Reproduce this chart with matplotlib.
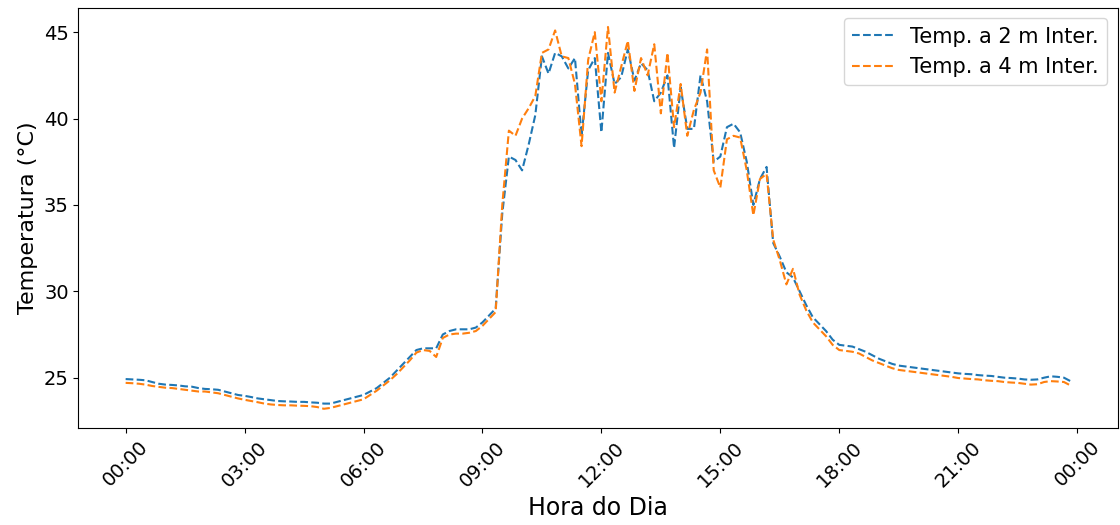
import numpy as np
import matplotlib
matplotlib.use("Agg")
import matplotlib.pyplot as plt

# leituras a cada 10 minutos, 00:00 ate 23:50
horas = np.arange(144) / 6.0

temp_2m = [
    24.92, 24.90, 24.88, 24.85, 24.75, 24.65,
    24.60, 24.58, 24.55, 24.50, 24.48, 24.40,
    24.35, 24.33, 24.30, 24.20, 24.10, 24.00,
    23.95, 23.88, 23.80, 23.75, 23.70, 23.65,
    23.63, 23.62, 23.60, 23.60, 23.57, 23.55,
    23.50, 23.50, 23.60, 23.70, 23.80, 23.90,
    24.00, 24.20, 24.40, 24.70, 25.00, 25.40,
    25.80, 26.20, 26.60, 26.70, 26.70, 26.70,
    27.50, 27.70, 27.80, 27.80, 27.80, 27.90,
    28.20, 28.60, 29.00, 34.50, 37.80, 37.60,
    37.00, 38.50, 40.20, 43.60, 42.60, 43.80,
    43.60, 42.90, 43.50, 39.00, 42.80, 43.50,
    39.20, 43.80, 42.00, 42.40, 44.00, 42.20,
    43.20, 42.80, 41.00, 41.50, 42.50, 38.30,
    41.80, 39.40, 39.40, 42.50, 41.00, 37.50,
    37.80, 39.50, 39.70, 39.20, 37.50, 35.00,
    36.50, 37.20, 32.80, 32.00, 31.10, 30.80,
    30.00, 29.20, 28.50, 28.10, 27.70, 27.20,
    26.90, 26.85, 26.80, 26.65, 26.50, 26.30,
    26.10, 25.95, 25.80, 25.70, 25.65, 25.60,
    25.55, 25.50, 25.45, 25.40, 25.35, 25.30,
    25.25, 25.22, 25.20, 25.15, 25.12, 25.10,
    25.05, 25.00, 24.98, 24.95, 24.90, 24.88,
    24.90, 25.00, 25.08, 25.05, 25.00, 24.80,
]

temp_4m = [
    24.70, 24.68, 24.65, 24.60, 24.52, 24.47,
    24.42, 24.40, 24.35, 24.30, 24.25, 24.20,
    24.20, 24.15, 24.10, 24.00, 23.90, 23.80,
    23.72, 23.65, 23.58, 23.50, 23.45, 23.42,
    23.40, 23.40, 23.38, 23.37, 23.35, 23.30,
    23.20, 23.25, 23.35, 23.45, 23.55, 23.65,
    23.75, 24.00, 24.25, 24.55, 24.85, 25.20,
    25.60, 26.00, 26.45, 26.60, 26.55, 26.20,
    27.30, 27.50, 27.55, 27.55, 27.60, 27.70,
    28.00, 28.40, 28.80, 35.00, 39.30, 39.00,
    40.00, 40.60, 41.30, 43.80, 44.00, 45.10,
    43.60, 43.50, 42.00, 38.40, 43.40, 45.00,
    41.00, 45.30, 41.50, 43.00, 44.50, 41.60,
    43.50, 42.50, 44.30, 40.30, 43.80, 39.50,
    42.00, 39.00, 40.50, 41.50, 44.00, 37.00,
    36.00, 38.80, 39.00, 38.90, 37.00, 34.40,
    36.50, 36.80, 33.00, 31.80, 30.40, 31.30,
    29.80, 28.90, 28.20, 27.80, 27.40, 26.90,
    26.60, 26.55, 26.50, 26.40, 26.20, 26.00,
    25.85, 25.70, 25.55, 25.45, 25.40, 25.35,
    25.30, 25.25, 25.20, 25.15, 25.10, 25.05,
    24.98, 24.95, 24.92, 24.90, 24.85, 24.82,
    24.80, 24.75, 24.72, 24.70, 24.65, 24.60,
    24.62, 24.75, 24.80, 24.78, 24.75, 24.55,
]

tick_horas = [0, 3, 6, 9, 12, 15, 18, 21, 24]
tick_labels = ["00:00", "03:00", "06:00", "09:00", "12:00",
               "15:00", "18:00", "21:00", "00:00"]

fig, ax = plt.subplots(figsize=(11.2, 5.25), dpi=100)
fig.subplots_adjust(left=0.07, right=0.998, top=0.985, bottom=0.185)

ax.plot(horas, temp_2m, '--', color='#1f77b4', lw=1.5, label='Temp. a 2 m Inter.')
ax.plot(horas, temp_4m, '--', color='#ff7f0e', lw=1.5, label='Temp. a 4 m Inter.')

ax.set_xticks(tick_horas)
ax.set_xticklabels(tick_labels, rotation=45, fontsize=14)
ax.tick_params(axis='y', labelsize=14)
ax.set_yticks([25, 30, 35, 40, 45])
ax.set_xlabel('Hora do Dia', fontsize=17)
ax.set_ylabel('Temperatura (°C)', fontsize=16)
ax.legend(loc='upper right', fontsize=15)

fig.savefig('out.png', dpi=100)
